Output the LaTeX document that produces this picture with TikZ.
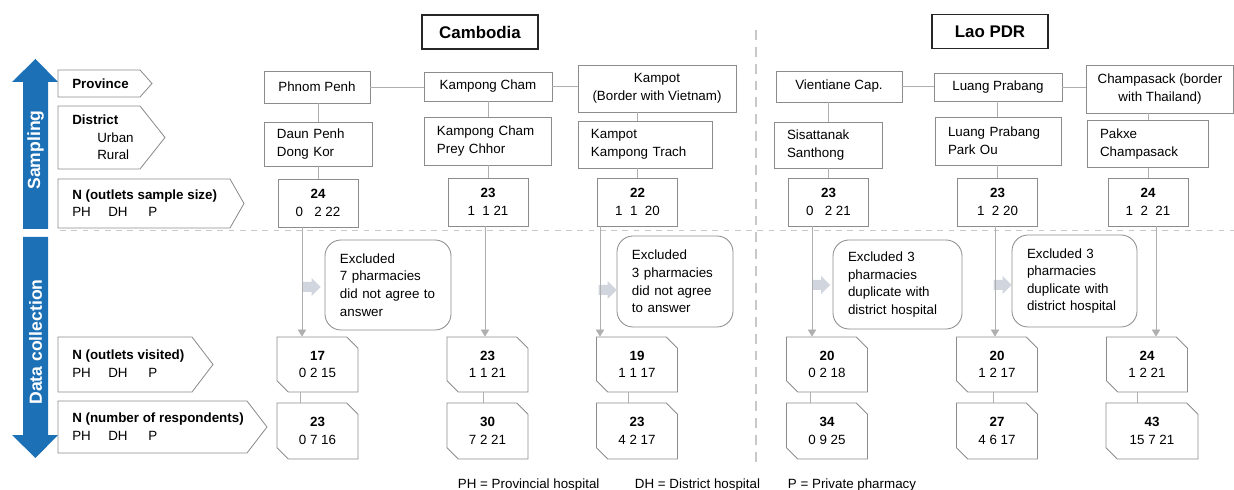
\documentclass[tikz,border=0pt]{standalone}
\usepackage{fontspec}
\setmainfont{Liberation Sans}
\usepackage{tikz}
\usetikzlibrary{arrows.meta,shapes.misc}
\definecolor{phaseblue}{RGB}{28,112,182}
\definecolor{boxgray}{RGB}{140,140,140}
\definecolor{linegray}{RGB}{175,175,175}
\definecolor{dashgray}{RGB}{200,200,200}
\definecolor{fatgray}{RGB}{208,213,222}
\newcommand{\pxu}{0.025cm}
\newcommand{\phdhp}{\makebox[0.9cm][l]{PH}\makebox[1.0cm][l]{DH}P}
\newcommand{\fatptr}[1]{\fill[fatgray] (#1) ++(-9,-5) -- ++(9,0) -- ++(0,-4) -- ++(9,9) -- ++(-9,9) -- ++(0,-4) -- ++(-9,0) -- cycle;}
\tikzset{
         every node/.style={font=\fontsize{9.5}{12.5}\selectfont},
         phase label/.style={rotate=90,text=white,inner sep=0pt,font=\fontsize{12.5}{14}\bfseries\selectfont},
         title box/.style={draw=black!85,line width=1.3pt,minimum width=116*\pxu,minimum height=34*\pxu,font=\fontsize{12}{14}\bfseries\selectfont},
         row label/.style={draw=boxgray,line width=0.6pt},
         row text/.style={anchor=west,align=left,inner sep=0pt},
         province box/.style={draw=boxgray,line width=0.6pt,align=center,inner sep=0pt},
         district box/.style={draw=boxgray,line width=0.6pt,align=left,inner xsep=13*\pxu,inner ysep=0pt},
         sample box/.style={draw=boxgray,line width=0.6pt,align=center,inner sep=0pt,minimum width=80*\pxu,minimum height=48*\pxu},
         count box/.style={chamfered rectangle,chamfered rectangle corners={north east,south west},chamfered rectangle xsep=0.14cm,chamfered rectangle ysep=0.14cm,draw=boxgray,line width=0.6pt,align=center,inner sep=0pt,minimum width=81*\pxu,minimum height=55*\pxu},
         excluded box/.style={draw=boxgray,line width=0.6pt,rounded corners=0.4cm,align=left,inner xsep=15*\pxu,inner ysep=0pt},
         pointer spot/.style={inner sep=0pt,minimum size=0pt},
         link/.style={draw=linegray,line width=0.6pt},
         flow/.style={draw=linegray,line width=0.6pt,-{Triangle[length=5pt,width=6pt]}},
         stage split/.style={draw=dashgray,line width=0.7pt,dash pattern=on 4pt off 4pt},
         country split/.style={draw=dashgray,line width=0.8pt,dash pattern=on 7pt off 5pt}
        }

\begin{document}
\begin{tikzpicture}[x=\pxu,y=-\pxu]
    \useasboundingbox (0,0) rectangle (1234,490); % page frame
    \fill[phaseblue] (23,229) -- (23,82) -- (12,82) -- (35.5,59) -- (58,82) -- (48,82) -- (48,229) -- cycle; % sampling arrow
    \fill[phaseblue] (23,237) -- (48,237) -- (48,435) -- (58,435) -- (35.5,458) -- (12,435) -- (23,435) -- cycle; % data collection arrow
    \node[phase label] (sampling) at (35.5,150) {Sampling}; % phase label
    \node[phase label] (datacoll) at (35.5,342) {Data collection}; % phase label
    \draw[country split] (756,30) -- (756,468); % country divider
    \draw[stage split] (60,230) -- (1234,230); % stage divider
    \node[title box] (cambodia) at (480,32) {Cambodia}; % country title
    \node[title box] (laos) at (990,31.5) {Lao PDR}; % country title
    % row labels
    \draw[row label] (58,70) -- (140,70) -- (152,83.5) -- (140,97) -- (58,97) -- cycle; % province tag
    \draw[row label] (58,106) -- (140,106) -- (165,137.5) -- (140,169) -- (58,169) -- cycle; % district tag
    \draw[row label] (58,179) -- (230,179) -- (244,203.5) -- (230,228) -- (58,228) -- cycle; % sample tag
    \draw[row label] (58,337) -- (192,337) -- (213,364.5) -- (192,392) -- (58,392) -- cycle; % visited tag
    \draw[row label] (58,401) -- (247,401) -- (267,427) -- (247,453) -- (58,453) -- cycle; % respondents tag
    \node[row text] (province) at (72,83.5) {\textbf{Province}}; % province label
    \node[row text] (district) at (72,137.5) {\textbf{District}\\\hspace*{0.625cm}Urban\\\hspace*{0.625cm}Rural}; % district label
    \node[row text] (sample) at (72,203) {\textbf{N (outlets sample size)}\\\phdhp}; % sample label
    \node[row text] (visited) at (72,363.5) {\textbf{N (outlets visited)}\\\phdhp}; % visited label
    \node[row text] (respond) at (72,426.5) {\textbf{N (number of respondents)}\\\phdhp}; % respondents label
    % provinces
    \node[province box,minimum width=106*\pxu,minimum height=32*\pxu] (prov1) at (317,87) {Phnom Penh};
    \node[province box,minimum width=128*\pxu,minimum height=29*\pxu] (prov2) at (488,86.5) {Kampong Cham};
    \node[province box,minimum width=158*\pxu,minimum height=47*\pxu] (prov3) at (657,88.5) {Kampot\\(Border with Vietnam)};
    \node[province box,minimum width=126*\pxu,minimum height=31*\pxu] (prov4) at (839,86.5) {Vientiane Cap.};
    \node[province box,minimum width=128*\pxu,minimum height=28*\pxu] (prov5) at (998,87) {Luang Prabang};
    \node[province box,minimum width=147*\pxu,minimum height=48*\pxu] (prov6) at (1160,89) {Champasack (border\\with Thailand)};
    % districts
    \node[district box,text width=2.05cm,minimum height=44*\pxu] (dist1) at (318,144) {Daun Penh\\Dong Kor};
    \node[district box,text width=2.525cm,minimum height=48*\pxu] (dist2) at (487.5,141) {Kampong Cham\\Prey Chhor};
    \node[district box,text width=2.7cm,minimum height=47*\pxu] (dist3) at (645,144.5) {Kampot\\Kampong Trach};
    \node[district box,text width=2.05cm,minimum height=46*\pxu] (dist4) at (828,145) {Sisattanak\\Santhong};
    \node[district box,text width=2.5cm,minimum height=48*\pxu] (dist5) at (998,141) {Luang Prabang\\Park Ou};
    \node[district box,text width=2.375cm,minimum height=47*\pxu] (dist6) at (1147.5,144) {Pakxe\\Champasack};
    % outlets sample size
    \node[sample box] (ns1) at (318,203) {\textbf{24}\\0\ \ \ 2 22};
    \node[sample box] (ns2) at (488,202) {\textbf{23}\\1\ \ 1 21};
    \node[sample box] (ns3) at (637.5,202) {\textbf{22}\\1\ \ 1\ \ 20};
    \node[sample box] (ns4) at (828.5,202) {\textbf{23}\\0\ \ \ 2 21};
    \node[sample box] (ns5) at (997.5,202) {\textbf{23}\\1\ \ 2 20};
    \node[sample box] (ns6) at (1148,202) {\textbf{24}\\1\ \ 2\ \ 21};
    % outlets visited
    \node[count box] (nv1) at (317.5,364.5) {\textbf{17}\\0 2 15};
    \node[count box] (nv2) at (487.5,364.5) {\textbf{23}\\1 1 21};
    \node[count box] (nv3) at (637,364.5) {\textbf{19}\\1 1 17};
    \node[count box] (nv4) at (827,364.5) {\textbf{20}\\0 2 18};
    \node[count box] (nv5) at (997,364.5) {\textbf{20}\\1 2 17};
    \node[count box] (nv6) at (1147,364.5) {\textbf{24}\\1 2 21};
    % respondents
    \node[count box,minimum height=56*\pxu] (nr1) at (317.5,431) {\textbf{23}\\0 7 16};
    \node[count box,minimum height=56*\pxu] (nr2) at (487.5,431) {\textbf{30}\\7 2 21};
    \node[count box,minimum height=56*\pxu] (nr3) at (637,431) {\textbf{23}\\4 2 17};
    \node[count box,minimum height=56*\pxu] (nr4) at (827,431) {\textbf{34}\\0 9 25};
    \node[count box,minimum height=56*\pxu] (nr5) at (997,431) {\textbf{27}\\4 6 17};
    \node[count box,minimum height=56*\pxu,minimum width=92*\pxu] (nr6) at (1152,431) {\textbf{43}\\15 7 21};
    % exclusions
    \node[excluded box,text width=2.4cm,minimum height=90*\pxu] (excl1) at (388,285) {Excluded\\7 pharmacies\\did not agree to\\answer};
    \node[excluded box,text width=2.15cm,minimum height=91*\pxu] (excl3) at (675,281.5) {Excluded\\3 pharmacies\\did not agree\\to answer};
    \node[excluded box,text width=2.475cm,minimum height=89*\pxu] (excl4) at (897.5,284.5) {Excluded 3\\pharmacies\\duplicate with\\district hospital};
    \node[excluded box,text width=2.375cm,minimum height=92*\pxu] (excl5) at (1074.5,281) {Excluded 3\\pharmacies\\duplicate with\\district hospital};
    \node[pointer spot] (fa1) at (311.5,287) {}; \fatptr{fa1} % exclusion pointer
    \node[pointer spot] (fa3) at (607.5,290) {}; \fatptr{fa3} % exclusion pointer
    \node[pointer spot] (fa4) at (821,285) {}; \fatptr{fa4} % exclusion pointer
    \node[pointer spot] (fa5) at (1002.5,285) {}; \fatptr{fa5} % exclusion pointer
    % sampling links
    \draw[link] (prov1.east) -- (prov1.east -| prov2.west); % Cambodia chain
    \draw[link] (prov2.east) -- (prov2.east -| prov3.west);
    \draw[link] (prov4.east) -- (prov4.east -| prov5.west); % Lao chain
    \draw[link] (prov5.east) -- (prov5.east -| prov6.west);
    \draw[link] (prov1.south -| ns1) -- (dist1.north -| ns1); \draw[link] (dist1.south -| ns1) -- (ns1.north);
    \draw[link] (prov2.south -| ns2) -- (dist2.north -| ns2); \draw[link] (dist2.south -| ns2) -- (ns2.north);
    \draw[link] (prov3.south -| ns3) -- (dist3.north -| ns3); \draw[link] (dist3.south -| ns3) -- (ns3.north);
    \draw[link] (prov4.south -| ns4) -- (dist4.north -| ns4); \draw[link] (dist4.south -| ns4) -- (ns4.north);
    \draw[link] (prov5.south -| ns5) -- (dist5.north -| ns5); \draw[link] (dist5.south -| ns5) -- (ns5.north);
    \draw[link] (prov6.south -| ns6) -- (dist6.north -| ns6); \draw[link] (dist6.south -| ns6) -- (ns6.north);
    % data collection flow
    \draw[flow] ([xshift=-16*\pxu]ns1.south) -- ([xshift=-16*\pxu]ns1.south |- nv1.north);
    \draw[flow] ([xshift=-3*\pxu]ns2.south) -- ([xshift=-3*\pxu]ns2.south |- nv2.north);
    \draw[flow] ([xshift=-37.5*\pxu]ns3.south) -- ([xshift=-37.5*\pxu]ns3.south |- nv3.north);
    \draw[flow] ([xshift=-16.5*\pxu]ns4.south) -- ([xshift=-16.5*\pxu]ns4.south |- nv4.north);
    \draw[flow] ([xshift=-2.5*\pxu]ns5.south) -- ([xshift=-2.5*\pxu]ns5.south |- nv5.north);
    \draw[flow] ([xshift=8*\pxu]ns6.south) -- ([xshift=8*\pxu]ns6.south |- nv6.north);
    \draw[link] ([xshift=-17.5*\pxu]nv1.south) -- ([xshift=-17.5*\pxu]nv1.south |- nr1.north);
    \draw[link] ([xshift=-4.5*\pxu]nv2.south) -- ([xshift=-4.5*\pxu]nv2.south |- nr2.north);
    \draw[link] ([xshift=-9*\pxu]nv3.south) -- ([xshift=-9*\pxu]nv3.south |- nr3.north);
    \draw[link] ([xshift=-17*\pxu]nv4.south) -- ([xshift=-17*\pxu]nv4.south |- nr4.north);
    \draw[link] ([xshift=-4*\pxu]nv5.south) -- ([xshift=-4*\pxu]nv5.south |- nr5.north);
    \draw[link] ([xshift=-10*\pxu]nv6.south) -- ([xshift=-10*\pxu]nv6.south |- nr6.north);
    % key
    \node[anchor=base west] (phkey) at (453,488) {PH = Provincial hospital};
    \node[anchor=base west] (dhkey) at (630,488) {DH = District hospital};
    \node[anchor=base west] (pkey) at (783,488) {P = Private pharmacy};
\end{tikzpicture}
\end{document}
